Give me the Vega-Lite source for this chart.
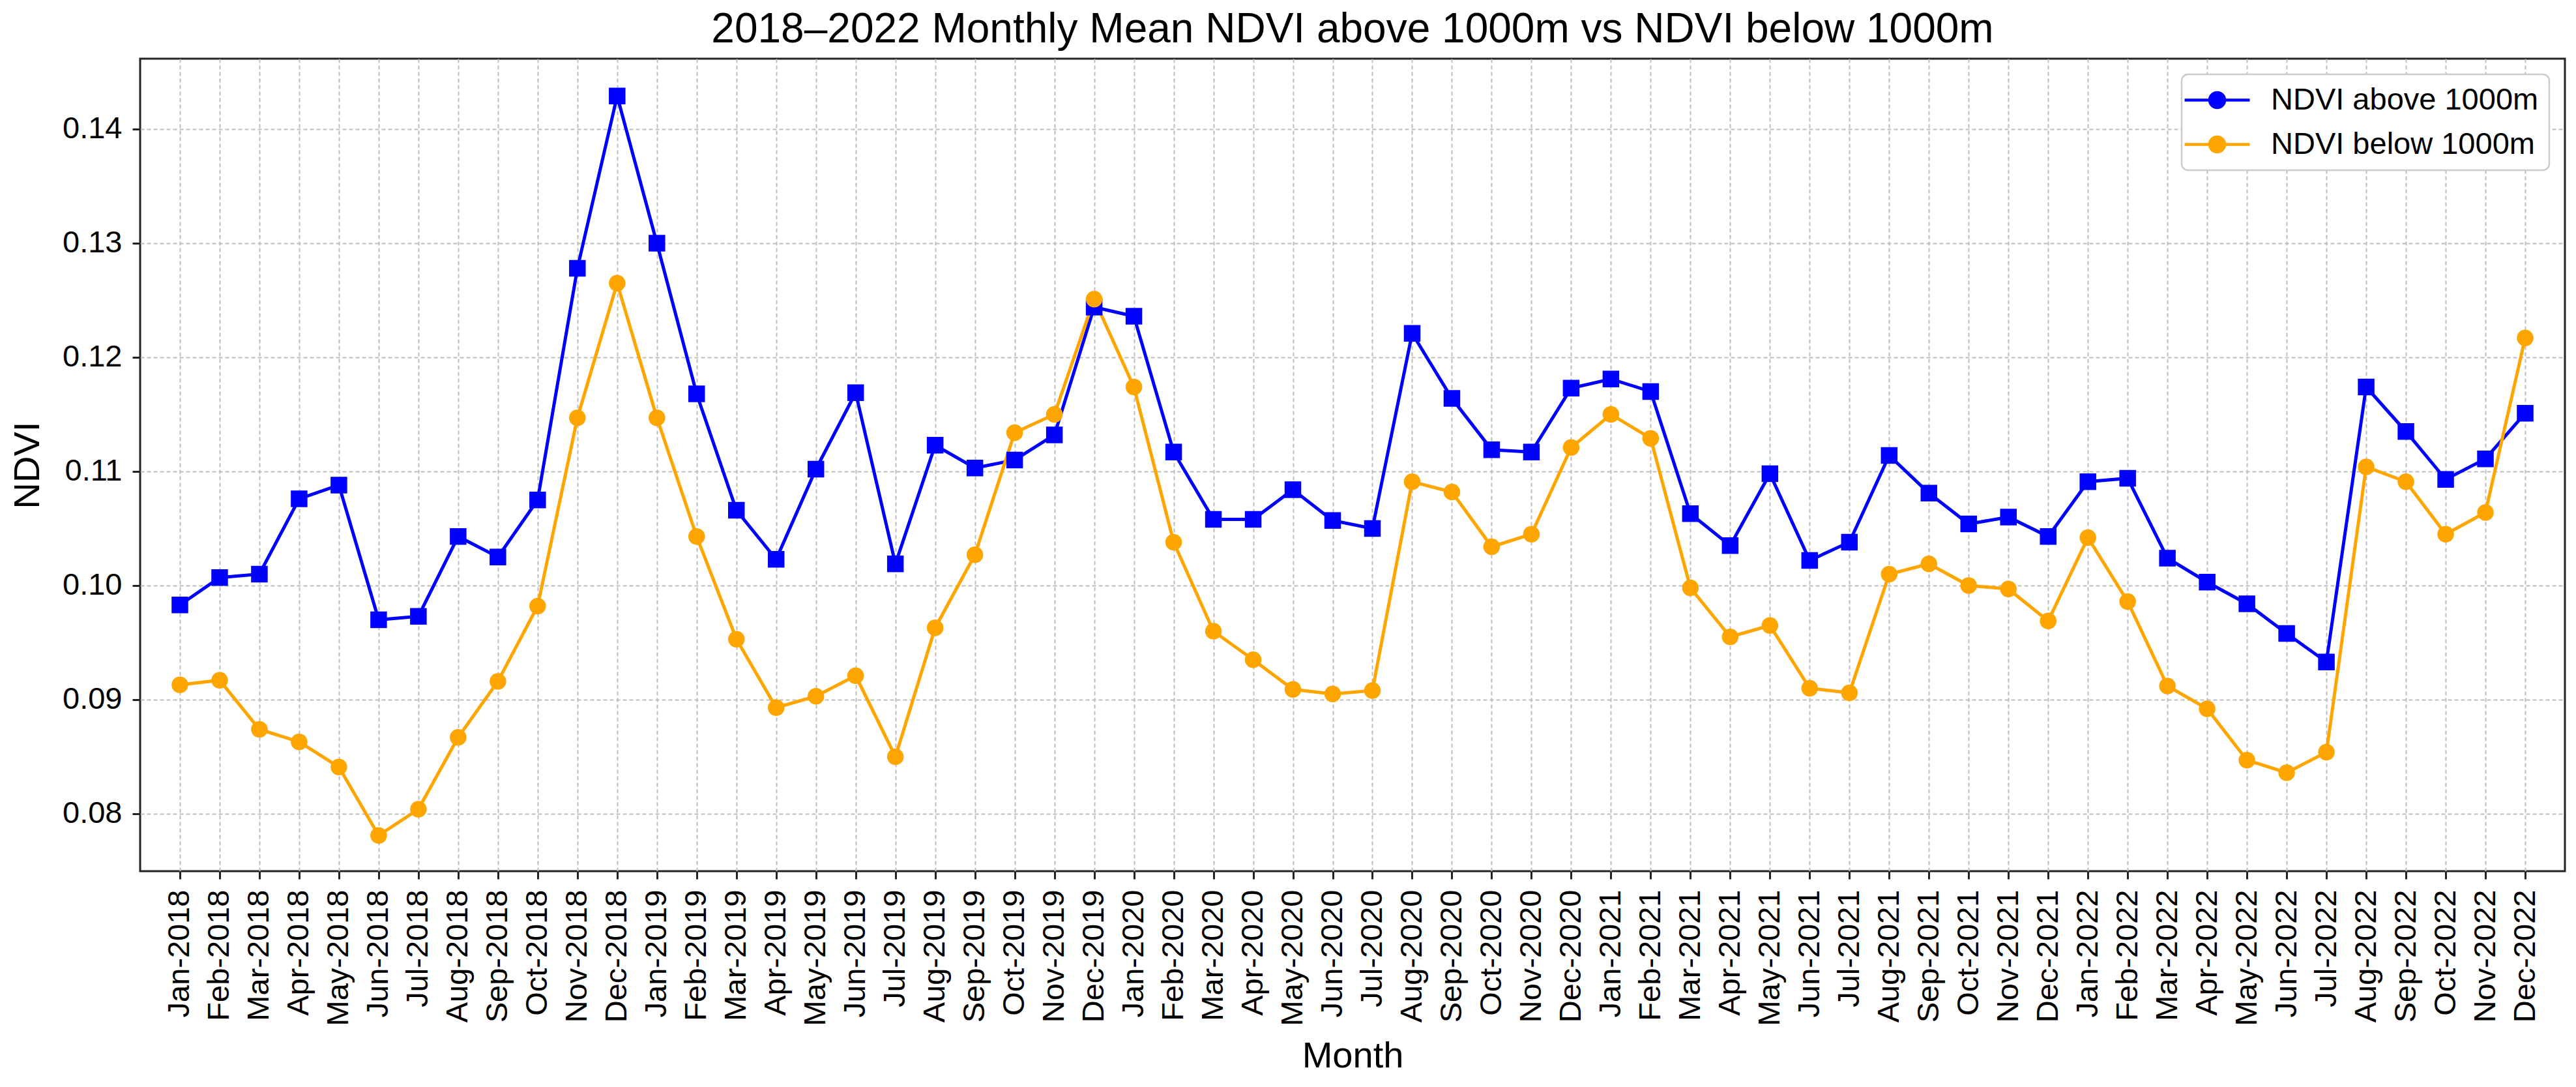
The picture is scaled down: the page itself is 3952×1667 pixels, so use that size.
{
  "$schema": "https://vega.github.io/schema/vega-lite/v6.json",
  "width": 3720,
  "height": 1246,
  "padding": {"left": 14, "top": 14, "right": 21, "bottom": 20},
  "background": "white",
  "title": {"text": "2018–2022 Monthly Mean NDVI above 1000m vs NDVI below 1000m", "fontSize": 64, "font": "Liberation Sans", "fontWeight": "normal", "color": "black", "offset": 12},
  "config": {
    "view": {"stroke": "#222222", "strokeWidth": 3},
    "axis": {"labelFont": "Liberation Sans", "titleFont": "Liberation Sans", "labelFontSize": 47, "titleFontSize": 56, "titleFontWeight": "normal", "labelColor": "black", "titleColor": "black", "tickColor": "#222222", "tickSize": 12, "tickWidth": 3, "domain": false, "grid": true, "gridColor": "#bdbdbd", "gridDash": [6, 4], "gridWidth": 2, "labelLimit": 0},
    "legend": {"labelFont": "Liberation Sans", "labelFontSize": 47, "labelColor": "black", "labelLimit": 0}
  },
  "data": {"values": [
    {"month": "Jan-2018", "series": "NDVI above 1000m", "ndvi": 0.0983},
    {"month": "Feb-2018", "series": "NDVI above 1000m", "ndvi": 0.1007},
    {"month": "Mar-2018", "series": "NDVI above 1000m", "ndvi": 0.1010},
    {"month": "Apr-2018", "series": "NDVI above 1000m", "ndvi": 0.1076},
    {"month": "May-2018", "series": "NDVI above 1000m", "ndvi": 0.1088},
    {"month": "Jun-2018", "series": "NDVI above 1000m", "ndvi": 0.0970},
    {"month": "Jul-2018", "series": "NDVI above 1000m", "ndvi": 0.0973},
    {"month": "Aug-2018", "series": "NDVI above 1000m", "ndvi": 0.1043},
    {"month": "Sep-2018", "series": "NDVI above 1000m", "ndvi": 0.1025},
    {"month": "Oct-2018", "series": "NDVI above 1000m", "ndvi": 0.1075},
    {"month": "Nov-2018", "series": "NDVI above 1000m", "ndvi": 0.1278},
    {"month": "Dec-2018", "series": "NDVI above 1000m", "ndvi": 0.1429},
    {"month": "Jan-2019", "series": "NDVI above 1000m", "ndvi": 0.1300},
    {"month": "Feb-2019", "series": "NDVI above 1000m", "ndvi": 0.1168},
    {"month": "Mar-2019", "series": "NDVI above 1000m", "ndvi": 0.1066},
    {"month": "Apr-2019", "series": "NDVI above 1000m", "ndvi": 0.1023},
    {"month": "May-2019", "series": "NDVI above 1000m", "ndvi": 0.1102},
    {"month": "Jun-2019", "series": "NDVI above 1000m", "ndvi": 0.1169},
    {"month": "Jul-2019", "series": "NDVI above 1000m", "ndvi": 0.1019},
    {"month": "Aug-2019", "series": "NDVI above 1000m", "ndvi": 0.1123},
    {"month": "Sep-2019", "series": "NDVI above 1000m", "ndvi": 0.1103},
    {"month": "Oct-2019", "series": "NDVI above 1000m", "ndvi": 0.1110},
    {"month": "Nov-2019", "series": "NDVI above 1000m", "ndvi": 0.1132},
    {"month": "Dec-2019", "series": "NDVI above 1000m", "ndvi": 0.1244},
    {"month": "Jan-2020", "series": "NDVI above 1000m", "ndvi": 0.1236},
    {"month": "Feb-2020", "series": "NDVI above 1000m", "ndvi": 0.1117},
    {"month": "Mar-2020", "series": "NDVI above 1000m", "ndvi": 0.1058},
    {"month": "Apr-2020", "series": "NDVI above 1000m", "ndvi": 0.1058},
    {"month": "May-2020", "series": "NDVI above 1000m", "ndvi": 0.1084},
    {"month": "Jun-2020", "series": "NDVI above 1000m", "ndvi": 0.1057},
    {"month": "Jul-2020", "series": "NDVI above 1000m", "ndvi": 0.1050},
    {"month": "Aug-2020", "series": "NDVI above 1000m", "ndvi": 0.1221},
    {"month": "Sep-2020", "series": "NDVI above 1000m", "ndvi": 0.1164},
    {"month": "Oct-2020", "series": "NDVI above 1000m", "ndvi": 0.1119},
    {"month": "Nov-2020", "series": "NDVI above 1000m", "ndvi": 0.1117},
    {"month": "Dec-2020", "series": "NDVI above 1000m", "ndvi": 0.1173},
    {"month": "Jan-2021", "series": "NDVI above 1000m", "ndvi": 0.1181},
    {"month": "Feb-2021", "series": "NDVI above 1000m", "ndvi": 0.1170},
    {"month": "Mar-2021", "series": "NDVI above 1000m", "ndvi": 0.1063},
    {"month": "Apr-2021", "series": "NDVI above 1000m", "ndvi": 0.1035},
    {"month": "May-2021", "series": "NDVI above 1000m", "ndvi": 0.1098},
    {"month": "Jun-2021", "series": "NDVI above 1000m", "ndvi": 0.1022},
    {"month": "Jul-2021", "series": "NDVI above 1000m", "ndvi": 0.1038},
    {"month": "Aug-2021", "series": "NDVI above 1000m", "ndvi": 0.1114},
    {"month": "Sep-2021", "series": "NDVI above 1000m", "ndvi": 0.1081},
    {"month": "Oct-2021", "series": "NDVI above 1000m", "ndvi": 0.1054},
    {"month": "Nov-2021", "series": "NDVI above 1000m", "ndvi": 0.1060},
    {"month": "Dec-2021", "series": "NDVI above 1000m", "ndvi": 0.1043},
    {"month": "Jan-2022", "series": "NDVI above 1000m", "ndvi": 0.1091},
    {"month": "Feb-2022", "series": "NDVI above 1000m", "ndvi": 0.1094},
    {"month": "Mar-2022", "series": "NDVI above 1000m", "ndvi": 0.1024},
    {"month": "Apr-2022", "series": "NDVI above 1000m", "ndvi": 0.1003},
    {"month": "May-2022", "series": "NDVI above 1000m", "ndvi": 0.0984},
    {"month": "Jun-2022", "series": "NDVI above 1000m", "ndvi": 0.0958},
    {"month": "Jul-2022", "series": "NDVI above 1000m", "ndvi": 0.0933},
    {"month": "Aug-2022", "series": "NDVI above 1000m", "ndvi": 0.1174},
    {"month": "Sep-2022", "series": "NDVI above 1000m", "ndvi": 0.1135},
    {"month": "Oct-2022", "series": "NDVI above 1000m", "ndvi": 0.1093},
    {"month": "Nov-2022", "series": "NDVI above 1000m", "ndvi": 0.1111},
    {"month": "Dec-2022", "series": "NDVI above 1000m", "ndvi": 0.1151},
    {"month": "Jan-2018", "series": "NDVI below 1000m", "ndvi": 0.0913},
    {"month": "Feb-2018", "series": "NDVI below 1000m", "ndvi": 0.0917},
    {"month": "Mar-2018", "series": "NDVI below 1000m", "ndvi": 0.0874},
    {"month": "Apr-2018", "series": "NDVI below 1000m", "ndvi": 0.0863},
    {"month": "May-2018", "series": "NDVI below 1000m", "ndvi": 0.0841},
    {"month": "Jun-2018", "series": "NDVI below 1000m", "ndvi": 0.0781},
    {"month": "Jul-2018", "series": "NDVI below 1000m", "ndvi": 0.0804},
    {"month": "Aug-2018", "series": "NDVI below 1000m", "ndvi": 0.0867},
    {"month": "Sep-2018", "series": "NDVI below 1000m", "ndvi": 0.0916},
    {"month": "Oct-2018", "series": "NDVI below 1000m", "ndvi": 0.0982},
    {"month": "Nov-2018", "series": "NDVI below 1000m", "ndvi": 0.1147},
    {"month": "Dec-2018", "series": "NDVI below 1000m", "ndvi": 0.1265},
    {"month": "Jan-2019", "series": "NDVI below 1000m", "ndvi": 0.1147},
    {"month": "Feb-2019", "series": "NDVI below 1000m", "ndvi": 0.1043},
    {"month": "Mar-2019", "series": "NDVI below 1000m", "ndvi": 0.0953},
    {"month": "Apr-2019", "series": "NDVI below 1000m", "ndvi": 0.0893},
    {"month": "May-2019", "series": "NDVI below 1000m", "ndvi": 0.0903},
    {"month": "Jun-2019", "series": "NDVI below 1000m", "ndvi": 0.0921},
    {"month": "Jul-2019", "series": "NDVI below 1000m", "ndvi": 0.0850},
    {"month": "Aug-2019", "series": "NDVI below 1000m", "ndvi": 0.0963},
    {"month": "Sep-2019", "series": "NDVI below 1000m", "ndvi": 0.1027},
    {"month": "Oct-2019", "series": "NDVI below 1000m", "ndvi": 0.1134},
    {"month": "Nov-2019", "series": "NDVI below 1000m", "ndvi": 0.1150},
    {"month": "Dec-2019", "series": "NDVI below 1000m", "ndvi": 0.1251},
    {"month": "Jan-2020", "series": "NDVI below 1000m", "ndvi": 0.1174},
    {"month": "Feb-2020", "series": "NDVI below 1000m", "ndvi": 0.1038},
    {"month": "Mar-2020", "series": "NDVI below 1000m", "ndvi": 0.0960},
    {"month": "Apr-2020", "series": "NDVI below 1000m", "ndvi": 0.0935},
    {"month": "May-2020", "series": "NDVI below 1000m", "ndvi": 0.0909},
    {"month": "Jun-2020", "series": "NDVI below 1000m", "ndvi": 0.0905},
    {"month": "Jul-2020", "series": "NDVI below 1000m", "ndvi": 0.0908},
    {"month": "Aug-2020", "series": "NDVI below 1000m", "ndvi": 0.1091},
    {"month": "Sep-2020", "series": "NDVI below 1000m", "ndvi": 0.1082},
    {"month": "Oct-2020", "series": "NDVI below 1000m", "ndvi": 0.1034},
    {"month": "Nov-2020", "series": "NDVI below 1000m", "ndvi": 0.1045},
    {"month": "Dec-2020", "series": "NDVI below 1000m", "ndvi": 0.1121},
    {"month": "Jan-2021", "series": "NDVI below 1000m", "ndvi": 0.1150},
    {"month": "Feb-2021", "series": "NDVI below 1000m", "ndvi": 0.1129},
    {"month": "Mar-2021", "series": "NDVI below 1000m", "ndvi": 0.0998},
    {"month": "Apr-2021", "series": "NDVI below 1000m", "ndvi": 0.0955},
    {"month": "May-2021", "series": "NDVI below 1000m", "ndvi": 0.0965},
    {"month": "Jun-2021", "series": "NDVI below 1000m", "ndvi": 0.0910},
    {"month": "Jul-2021", "series": "NDVI below 1000m", "ndvi": 0.0906},
    {"month": "Aug-2021", "series": "NDVI below 1000m", "ndvi": 0.1010},
    {"month": "Sep-2021", "series": "NDVI below 1000m", "ndvi": 0.1019},
    {"month": "Oct-2021", "series": "NDVI below 1000m", "ndvi": 0.1000},
    {"month": "Nov-2021", "series": "NDVI below 1000m", "ndvi": 0.0997},
    {"month": "Dec-2021", "series": "NDVI below 1000m", "ndvi": 0.0969},
    {"month": "Jan-2022", "series": "NDVI below 1000m", "ndvi": 0.1042},
    {"month": "Feb-2022", "series": "NDVI below 1000m", "ndvi": 0.0986},
    {"month": "Mar-2022", "series": "NDVI below 1000m", "ndvi": 0.0912},
    {"month": "Apr-2022", "series": "NDVI below 1000m", "ndvi": 0.0892},
    {"month": "May-2022", "series": "NDVI below 1000m", "ndvi": 0.0847},
    {"month": "Jun-2022", "series": "NDVI below 1000m", "ndvi": 0.0836},
    {"month": "Jul-2022", "series": "NDVI below 1000m", "ndvi": 0.0854},
    {"month": "Aug-2022", "series": "NDVI below 1000m", "ndvi": 0.1104},
    {"month": "Sep-2022", "series": "NDVI below 1000m", "ndvi": 0.1091},
    {"month": "Oct-2022", "series": "NDVI below 1000m", "ndvi": 0.1045},
    {"month": "Nov-2022", "series": "NDVI below 1000m", "ndvi": 0.1064},
    {"month": "Dec-2022", "series": "NDVI below 1000m", "ndvi": 0.1217}
  ]},
  "encoding": {
    "x": {
      "field": "month", "type": "ordinal", "title": "Month", "sort": null,
      "scale": {"type": "point", "padding": 2.95},
      "axis": {"labelAngle": -90, "labelAlign": "right", "labelBaseline": "middle", "labelPadding": 16, "titlePadding": 56, "labelOverlap": false}
    },
    "y": {
      "field": "ndvi", "type": "quantitative", "title": "NDVI",
      "scale": {"domain": [0.07497, 0.14617], "nice": false, "zero": false},
      "axis": {"values": [0.08, 0.09, 0.1, 0.11, 0.12, 0.13, 0.14], "format": ".2f", "labelPadding": 16, "titlePadding": 24}
    },
    "color": {
      "field": "series", "type": "nominal",
      "scale": {"domain": ["NDVI above 1000m", "NDVI below 1000m"], "range": ["#0000FF", "#FFA500"]},
      "legend": {
        "title": null, "orient": "top-right", "offset": 24, "fillColor": "white", "strokeColor": "#cccccc", "padding": 16, "cornerRadius": 10,
        "symbolSize": 729, "symbolStrokeWidth": 4.5, "symbolOffset": 15, "labelOffset": 59, "rowPadding": 20,
        "encode": {
          "legend": {"update": {"strokeWidth": {"value": 2.5}}},
          "symbols": {"update": {
            "shape": {"condition": {"test": "datum.index === 0 || datum.value === 'NDVI above 1000m' || datum.label === 'NDVI above 1000m'", "value": "M-3.7,0H3.7M-0.85,-0.85H0.85V0.85H-0.85Z"}, "value": "M-3.7,0H3.7M-0.85,0A0.85,0.85 0 1,0 0.85,0A0.85,0.85 0 1,0 -0.85,0Z"},
            "strokeWidth": {"value": 4.5}
          }}
        }
      }
    }
  },
  "layer": [
    {"mark": {"type": "line", "strokeWidth": 5}},
    {
      "transform": [{"filter": "datum.series === 'NDVI above 1000m'"}],
      "mark": {"type": "point", "shape": "square", "filled": true, "size": 650, "opacity": 1}
    },
    {
      "transform": [{"filter": "datum.series === 'NDVI below 1000m'"}],
      "mark": {"type": "point", "shape": "circle", "filled": true, "size": 650, "opacity": 1}
    }
  ]
}
